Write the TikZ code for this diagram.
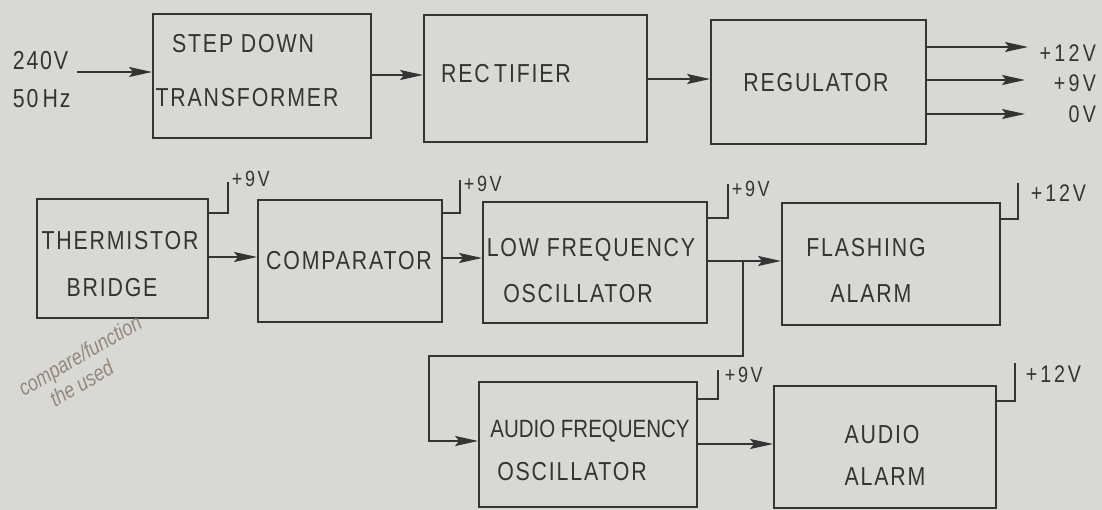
\documentclass[tikz,border=0pt]{standalone}
\usepackage{fontspec}
\setmainfont[FakeStretch=0.82,LetterSpace=7]{Liberation Sans}
\usetikzlibrary{arrows.meta,calc}
\definecolor{paper}{RGB}{216,216,212}
\definecolor{ink}{RGB}{52,52,52}
\definecolor{pencil}{RGB}{150,135,125}
\begin{document}
\begin{tikzpicture}[x=1pt,y=-1pt,
  line width=1.8pt,
  box/.style={draw=ink,line width=1.8pt,inner sep=0pt,minimum width=#1},
  lbl/.style={text=ink,inner sep=0pt,anchor=base,font=\fontsize{26}{30}\selectfont},
  lblw/.style={text=ink,inner sep=0pt,anchor=base west,font=\fontsize{26}{30}\selectfont},
  sup9/.style={text=ink,inner sep=0pt,anchor=base west,font=\fontsize{22}{26}\selectfont\addfontfeatures{LetterSpace=12}},
  sup12/.style={text=ink,inner sep=0pt,anchor=base west,font=\fontsize{24}{28}\selectfont\addfontfeatures{LetterSpace=12}},
  outl/.style={text=ink,inner sep=0pt,anchor=base east,font=\fontsize{24}{28}\selectfont\addfontfeatures{LetterSpace=14}},
  arr/.style={draw=ink,-{Stealth[length=23pt,width=10pt,inset=4pt]}},
  wire/.style={draw=ink}]
\fill[paper] (0,0) rectangle (1102,510);
\useasboundingbox (0,0) rectangle (1102,510);
% boxes
\node[box=218pt,minimum height=124pt] (step) at (262,76) {};
\node[box=223pt,minimum height=127pt] (rect) at (535.5,78.5) {};
\node[box=215pt,minimum height=124pt] (reg) at (818.5,82) {};
\node[box=171pt,minimum height=119pt] (thm) at (122.5,258.5) {};
\node[box=184pt,minimum height=122pt] (comp) at (350,261) {};
\node[box=224pt,minimum height=121pt] (lfo) at (595,262.5) {};
\node[box=218pt,minimum height=122pt] (flash) at (891,264) {};
\node[box=218pt,minimum height=125pt] (afo) at (588,444.5) {};
\node[box=222pt,minimum height=122pt] (aa) at (885,447) {};
% texts
\node[lblw] (t240) at (12,70) {240V};
\node[lblw] (t50) at (12,108) {50\,Hz};
\node[lbl] (tstep1) at (243,53) {STEP DOWN};
\node[lbl] (tstep2) at (247,107) {TRANSFORMER};
\node[lbl] (trect) at (506,83) {REC\,TIFIER};
\node[lbl] (treg) at (816,92) {REGULATOR};
\node[lbl] (tthm1) at (120,250) {THERMISTOR};
\node[lbl] (tthm2) at (112,297) {BRIDGE};
\node[lbl] (tcomp) at (349,270) {COMPARATOR};
\node[lbl] (tlfo1) at (591,257) {LOW FREQUENCY};
\node[lbl] (tlfo2) at (578,303) {OSCILLATOR};
\node[lbl] (tfl1) at (866,257) {FLASHING};
\node[lbl] (tfl2) at (871,303) {ALARM};
\node[lbl,font=\fontsize{25}{29}\selectfont\addfontfeatures{LetterSpace=0}] (tafo1) at (590,437) {AUDIO FREQUENCY};
\node[lbl] (tafo2) at (572,480) {OSCILLATOR};
\node[lbl] (taa1) at (882,443) {AUDIO};
\node[lbl] (taa2) at (885,485) {ALARM};
% regulator outputs
\node[outl] (o12) at (1097,62) {+12V};
\node[outl] (o9) at (1097,92) {+9V};
\node[outl] (o0) at (1097,123) {0V};
\coordinate (e12) at (1028,47);
\coordinate (e9) at (1025,80);
\coordinate (e0) at (1025,114);
\draw[arr] (reg.east |- e12) -- (e12);
\draw[arr] (reg.east |- e9) -- (e9);
\draw[arr] (reg.east |- e0) -- (e0);
% main chain
\coordinate (in) at (77,72);
\draw[arr] (in) -- (in -| step.west);
\draw[arr] (step.east |- 0,75) -- (rect.west |- 0,75);
\draw[arr] (rect.east |- 0,79) -- (reg.west |- 0,79);
\draw[arr] (thm.east |- 0,257) -- (comp.west |- 0,257);
\draw[arr] (comp.east |- 0,258) -- (lfo.west |- 0,258);
\coordinate (j) at (743,261);
\draw[wire] (lfo.east |- j) -- (j);
\draw[arr] (j) -- (j -| flash.west);
\coordinate (k) at (429,356);
\draw[arr] (j) |- (k) |- (afo.west |- 0,441);
\draw[arr] (afo.east |- 0,444) -- (aa.west |- 0,444);
% supply taps
\coordinate (s1) at (228,182);
\draw[wire] (thm.east |- 0,213) -| (s1);
\node[sup9] (v1) at (231,187) {+9V};
\coordinate (s2) at (460,180);
\draw[wire] (comp.east |- 0,213) -| (s2);
\node[sup9] (v2) at (463,192) {+9V};
\coordinate (s3) at (728,184);
\draw[wire] (lfo.east |- 0,218) -| (s3);
\node[sup9] (v3) at (731,197) {+9V};
\coordinate (s4) at (1018,183);
\draw[wire] (flash.east |- 0,219) -| (s4);
\node[sup12] (v4) at (1030,202) {+12V};
\coordinate (s5) at (718,370);
\draw[wire] (afo.east |- 0,399) -| (s5);
\node[sup9] (v5) at (724,382) {+9V};
\coordinate (s6) at (1015,363);
\draw[wire] (aa.east |- 0,401) -| (s6);
\node[sup12] (v6) at (1025,382) {+12V};
% pencil note
\node[text=pencil,rotate=30,align=left,font=\itshape\fontsize{22}{27}\selectfont\addfontfeatures{LetterSpace=0},inner sep=0pt] (note) at (86,366) {compare/function\\[-2pt]\quad the used};
\end{tikzpicture}
\end{document}
